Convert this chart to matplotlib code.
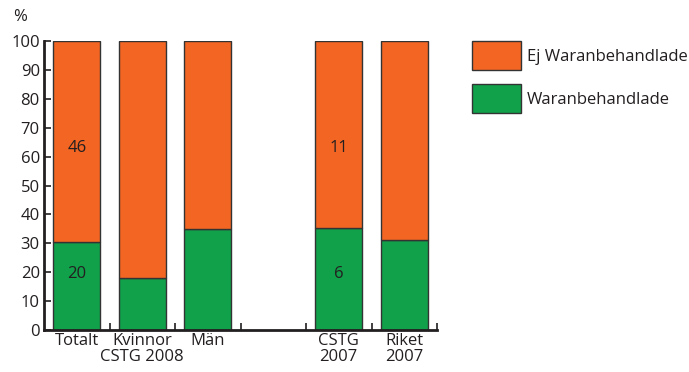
import matplotlib
matplotlib.use("Agg")
import matplotlib.pyplot as plt
from matplotlib.patches import Patch
import numpy as np

plt.rcParams['font.family'] = ['Open Sans', 'DejaVu Sans']

# Categories (an empty slot separates the 2008 and 2007 groups)
categories = ["Totalt", "Kvinnor\nCSTG 2008", "Män", "", "CSTG\n2007", "Riket\n2007"]

# Patient counts shown inside bars
totalt_treated, totalt_untreated = 20, 46
cstg07_treated, cstg07_untreated = 6, 11

# Share treated with warfarin (%)
treated_pct = [
    totalt_treated / (totalt_treated + totalt_untreated) * 100,
    18,
    35,
    np.nan,
    cstg07_treated / (cstg07_treated + cstg07_untreated) * 100,
    31,
]
untreated_pct = [100 - v for v in treated_pct]

series_labels = ["Ej Waranbehandlade", "Waranbehandlade"]
orange = "#F26522"
green = "#10A14A"
edge = "#333333"
txt = "#231F20"
fs = 12

fig = plt.figure(figsize=(6.89, 3.72), dpi=100)
ax = fig.add_axes([44 / 689, 42 / 372, 393 / 689, 289 / 372])

x = np.arange(len(categories))
t = np.nan_to_num(treated_pct)
u = np.nan_to_num(untreated_pct)
mask = ~np.isnan(treated_pct)
ax.bar(x[mask], t[mask], width=0.71, color=green, edgecolor=edge, linewidth=1.0)
ax.bar(x[mask], u[mask], bottom=t[mask], width=0.71, color=orange, edgecolor=edge, linewidth=1.0)

# Counts inside the bars
for xi, cnt_t, cnt_u in [(0, totalt_treated, totalt_untreated), (4, cstg07_treated, cstg07_untreated)]:
    ax.text(xi, 19.5, str(cnt_t), ha="center", va="center", fontsize=fs, color=txt)
    ax.text(xi, 63, str(cnt_u), ha="center", va="center", fontsize=fs, color=txt)

ax.set_xlim(-0.5, 5.5)
ax.set_ylim(0, 100)
ax.set_yticks(np.arange(0, 101, 10))
ax.tick_params(axis="y", direction="in", length=5, width=1.2, labelsize=fs, colors=txt, pad=3)

ax.set_xticks(x)
ax.set_xticklabels(categories, fontsize=fs, color=txt, linespacing=1.05)
ax.tick_params(axis="x", which="major", length=0, pad=2)
ax.set_xticks(np.arange(0.5, 5.6, 1.0), minor=True)
ax.tick_params(axis="x", which="minor", direction="in", length=5, width=1.2, color=txt)

for side in ["top", "right"]:
    ax.spines[side].set_visible(False)
for side in ["left", "bottom"]:
    ax.spines[side].set_linewidth(2.0)
    ax.spines[side].set_color(txt)

fig.text(20 / 689, 1 - 17 / 372, "%", ha="center", va="center", fontsize=fs, color=txt)

handles = [Patch(facecolor=orange, edgecolor=edge, linewidth=1.0),
           Patch(facecolor=green, edgecolor=edge, linewidth=1.0)]
fig.legend(handles, series_labels, loc="upper left", bbox_to_anchor=(472 / 689, 1 - 41 / 372),
           frameon=False, fontsize=fs, borderpad=0, borderaxespad=0,
           handlelength=2.94, handleheight=2.3,
           handletextpad=0.36, labelspacing=0.84, labelcolor=txt)

fig.savefig("out.png", dpi=100)
